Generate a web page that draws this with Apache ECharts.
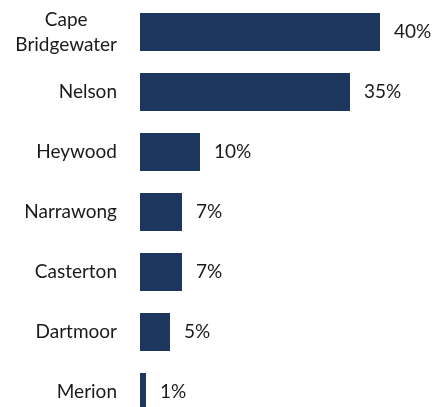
<!DOCTYPE html>
<html>
<head>
<meta charset="utf-8">
<script src="https://cdn.jsdelivr.net/npm/echarts@6/dist/echarts.min.js"></script>
<style>
  html, body { margin: 0; padding: 0; background: #ffffff; }
  #chart { width: 435px; height: 407px; }
</style>
</head>
<body>
<div id="chart"></div>
<script>
// Share of respondents by town
const towns = ['Cape\nBridgewater', 'Nelson', 'Heywood', 'Narrawong', 'Casterton', 'Dartmoor', 'Merion'];
const shares = [40, 35, 10, 7, 7, 5, 1];

const FONT = 'Lato';
const TEXT = '#1a1a1a';
const SIZE = 19;

const chart = echarts.init(document.getElementById('chart'), null, { renderer: 'canvas' });

chart.setOption({
  animation: false,
  backgroundColor: '#ffffff',
  // category centres sit on the grid edges (boundaryGap false), 60px apart
  grid: { left: 140, top: 32, width: 288, height: 360, containLabel: false },
  xAxis: {
    type: 'value',
    min: 0,
    max: 48,
    show: false
  },
  yAxis: {
    type: 'category',
    data: towns,
    inverse: true,
    boundaryGap: false,
    axisLine: { show: false },
    axisTick: { show: false },
    splitLine: { show: false },
    axisLabel: {
      margin: 23,
      fontFamily: FONT,
      fontSize: SIZE,
      color: TEXT,
      formatter: function (v) {
        // multi-line names are centred line by line
        return v.split('\n').map(function (s) { return '{c|' + s + '}'; }).join('\n');
      },
      rich: {
        c: { fontFamily: FONT, fontSize: SIZE, color: TEXT, align: 'center', lineHeight: 25 }
      }
    }
  },
  series: [{
    type: 'bar',
    data: shares,
    barWidth: 38,
    itemStyle: { color: '#1c365d' },
    label: {
      show: true,
      position: 'right',
      distance: 14,
      fontFamily: FONT,
      fontSize: SIZE,
      color: TEXT,
      formatter: '{c}%'
    }
  }]
});
</script>
</body>
</html>
